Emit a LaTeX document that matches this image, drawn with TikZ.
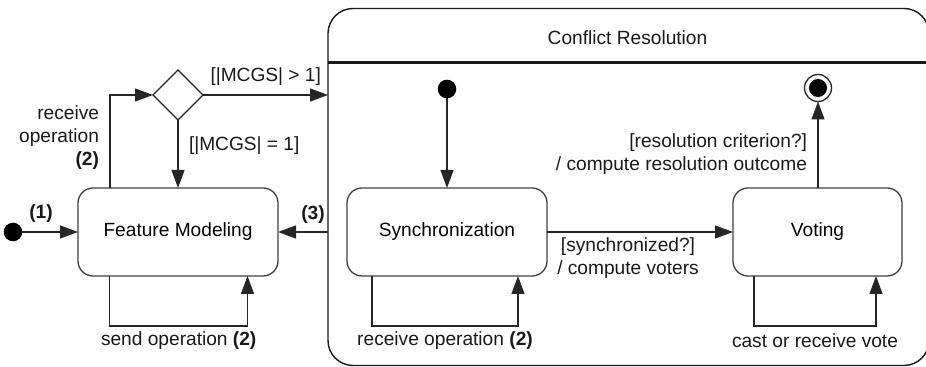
\documentclass[tikz,border=0pt]{standalone}
\usepackage{fontspec}
\setmainfont{Liberation Sans}
\usetikzlibrary{shapes.geometric,arrows.meta,calc}
\begin{document}
\begin{tikzpicture}[x=0.5pt,y=-0.5pt,
  font=\fontsize{9.57}{11.5}\selectfont,
  every node/.style={inner sep=0pt, outer sep=0pt},
  statebox/.style={draw=black!75, line width=0.65pt, rounded corners=7.5pt, minimum height=44pt},
  arr/.style={draw=black!85, line width=0.65pt, -{Triangle[length=9pt,width=6.5pt]}},
  dot/.style={circle, fill=black, minimum size=9.3pt},
  lbl/.style={text=black!90, align=center}]
\useasboundingbox (0,0) rectangle (926,367);
\begin{scope}
\clip (0,0) rectangle (926,367);
% composite state
\node[draw=black!90, line width=0.7pt, rounded corners=12.5pt, minimum width=300.5pt, minimum height=178.5pt] (cr) at (628.5,187) {};
\coordinate (dl) at (328,62.7);
\coordinate (dr) at (929,62.7);
\draw[black!90, line width=1.25pt] (dl) -- (dr);
\end{scope}
\node[lbl] (crt) at (627.5,38) {Conflict Resolution};

% left part
\node[dot] (i1) at (13,232) {};
\node[statebox, minimum width=100pt] (fm) at (178,232) {Feature Modeling};
\node[draw=black!85, line width=0.65pt, diamond, minimum size=25pt] (dia) at (178,95) {};

\draw[arr] (i1) -- (fm);
\node[lbl, font=\fontsize{9.57}{11.5}\selectfont\bfseries] (l1) at (41,214) {(1)};

\draw[arr] ($(fm.north)+(-68,0)$) |- (dia.west);
\node[lbl, align=right, anchor=east] (lro) at (99,137.5) {receive\\operation\\\textbf{(2)}};

\draw[arr] (dia.south) -- (fm.north);
\node[lbl, anchor=west] (leq) at (189,145.5) {[|MCGS| = 1]};

\draw[arr] (dia.east) -- (dia.east -| cr.west);
\node[lbl, anchor=west] (lgt) at (210.5,77) {[|MCGS| > 1]};

\draw[arr] (cr.west |- fm.east) -- (fm.east);
\node[lbl, font=\fontsize{9.57}{11.5}\selectfont\bfseries] (l3) at (313,215) {(3)};

\draw[arr] ($(fm.south)+(-68.5,0)$) -- ++(0,50) -| ($(fm.south)+(69.5,0)$);
\node[lbl] (lso) at (178.7,341) {send operation \textbf{(2)}};

% inside composite
\node[dot] (i2) at (447,89) {};
\node[statebox, minimum width=100pt] (sy) at (447,232) {Synchronization};
\node[statebox, minimum width=84.5pt] (vo) at (817.5,232) {Voting};
\node[circle, draw=black!85, line width=0.65pt, minimum size=13.5pt] (fin) at (818,88) {};
\node[circle, fill=black, minimum size=9pt] (fini) at (fin) {};

\draw[arr] (i2) -- (sy.north);
\draw[arr] (sy.east) -- (vo.west);
\node[lbl] (lsv) at (628,258) {[synchronized?]\\/ compute voters};

\draw[arr] (vo.north -| fin) -- (fin.south);
\node[lbl, align=right, anchor=east] (lrc) at (807,154) {[resolution criterion?]\\/ compute resolution outcome};

\draw[arr] ($(sy.south)+(-75,0)$) -- ++(0,50) -| ($(sy.south)+(71,0)$);
\node[lbl] (lsr) at (445,341) {receive operation \textbf{(2)}};

\draw[arr] ($(vo.south)+(-63.5,0)$) -- ++(0,50) -| ($(vo.south)+(58.5,0)$);
\node[lbl] (lcv) at (815,341) {cast or receive vote};
\end{tikzpicture}
\end{document}
